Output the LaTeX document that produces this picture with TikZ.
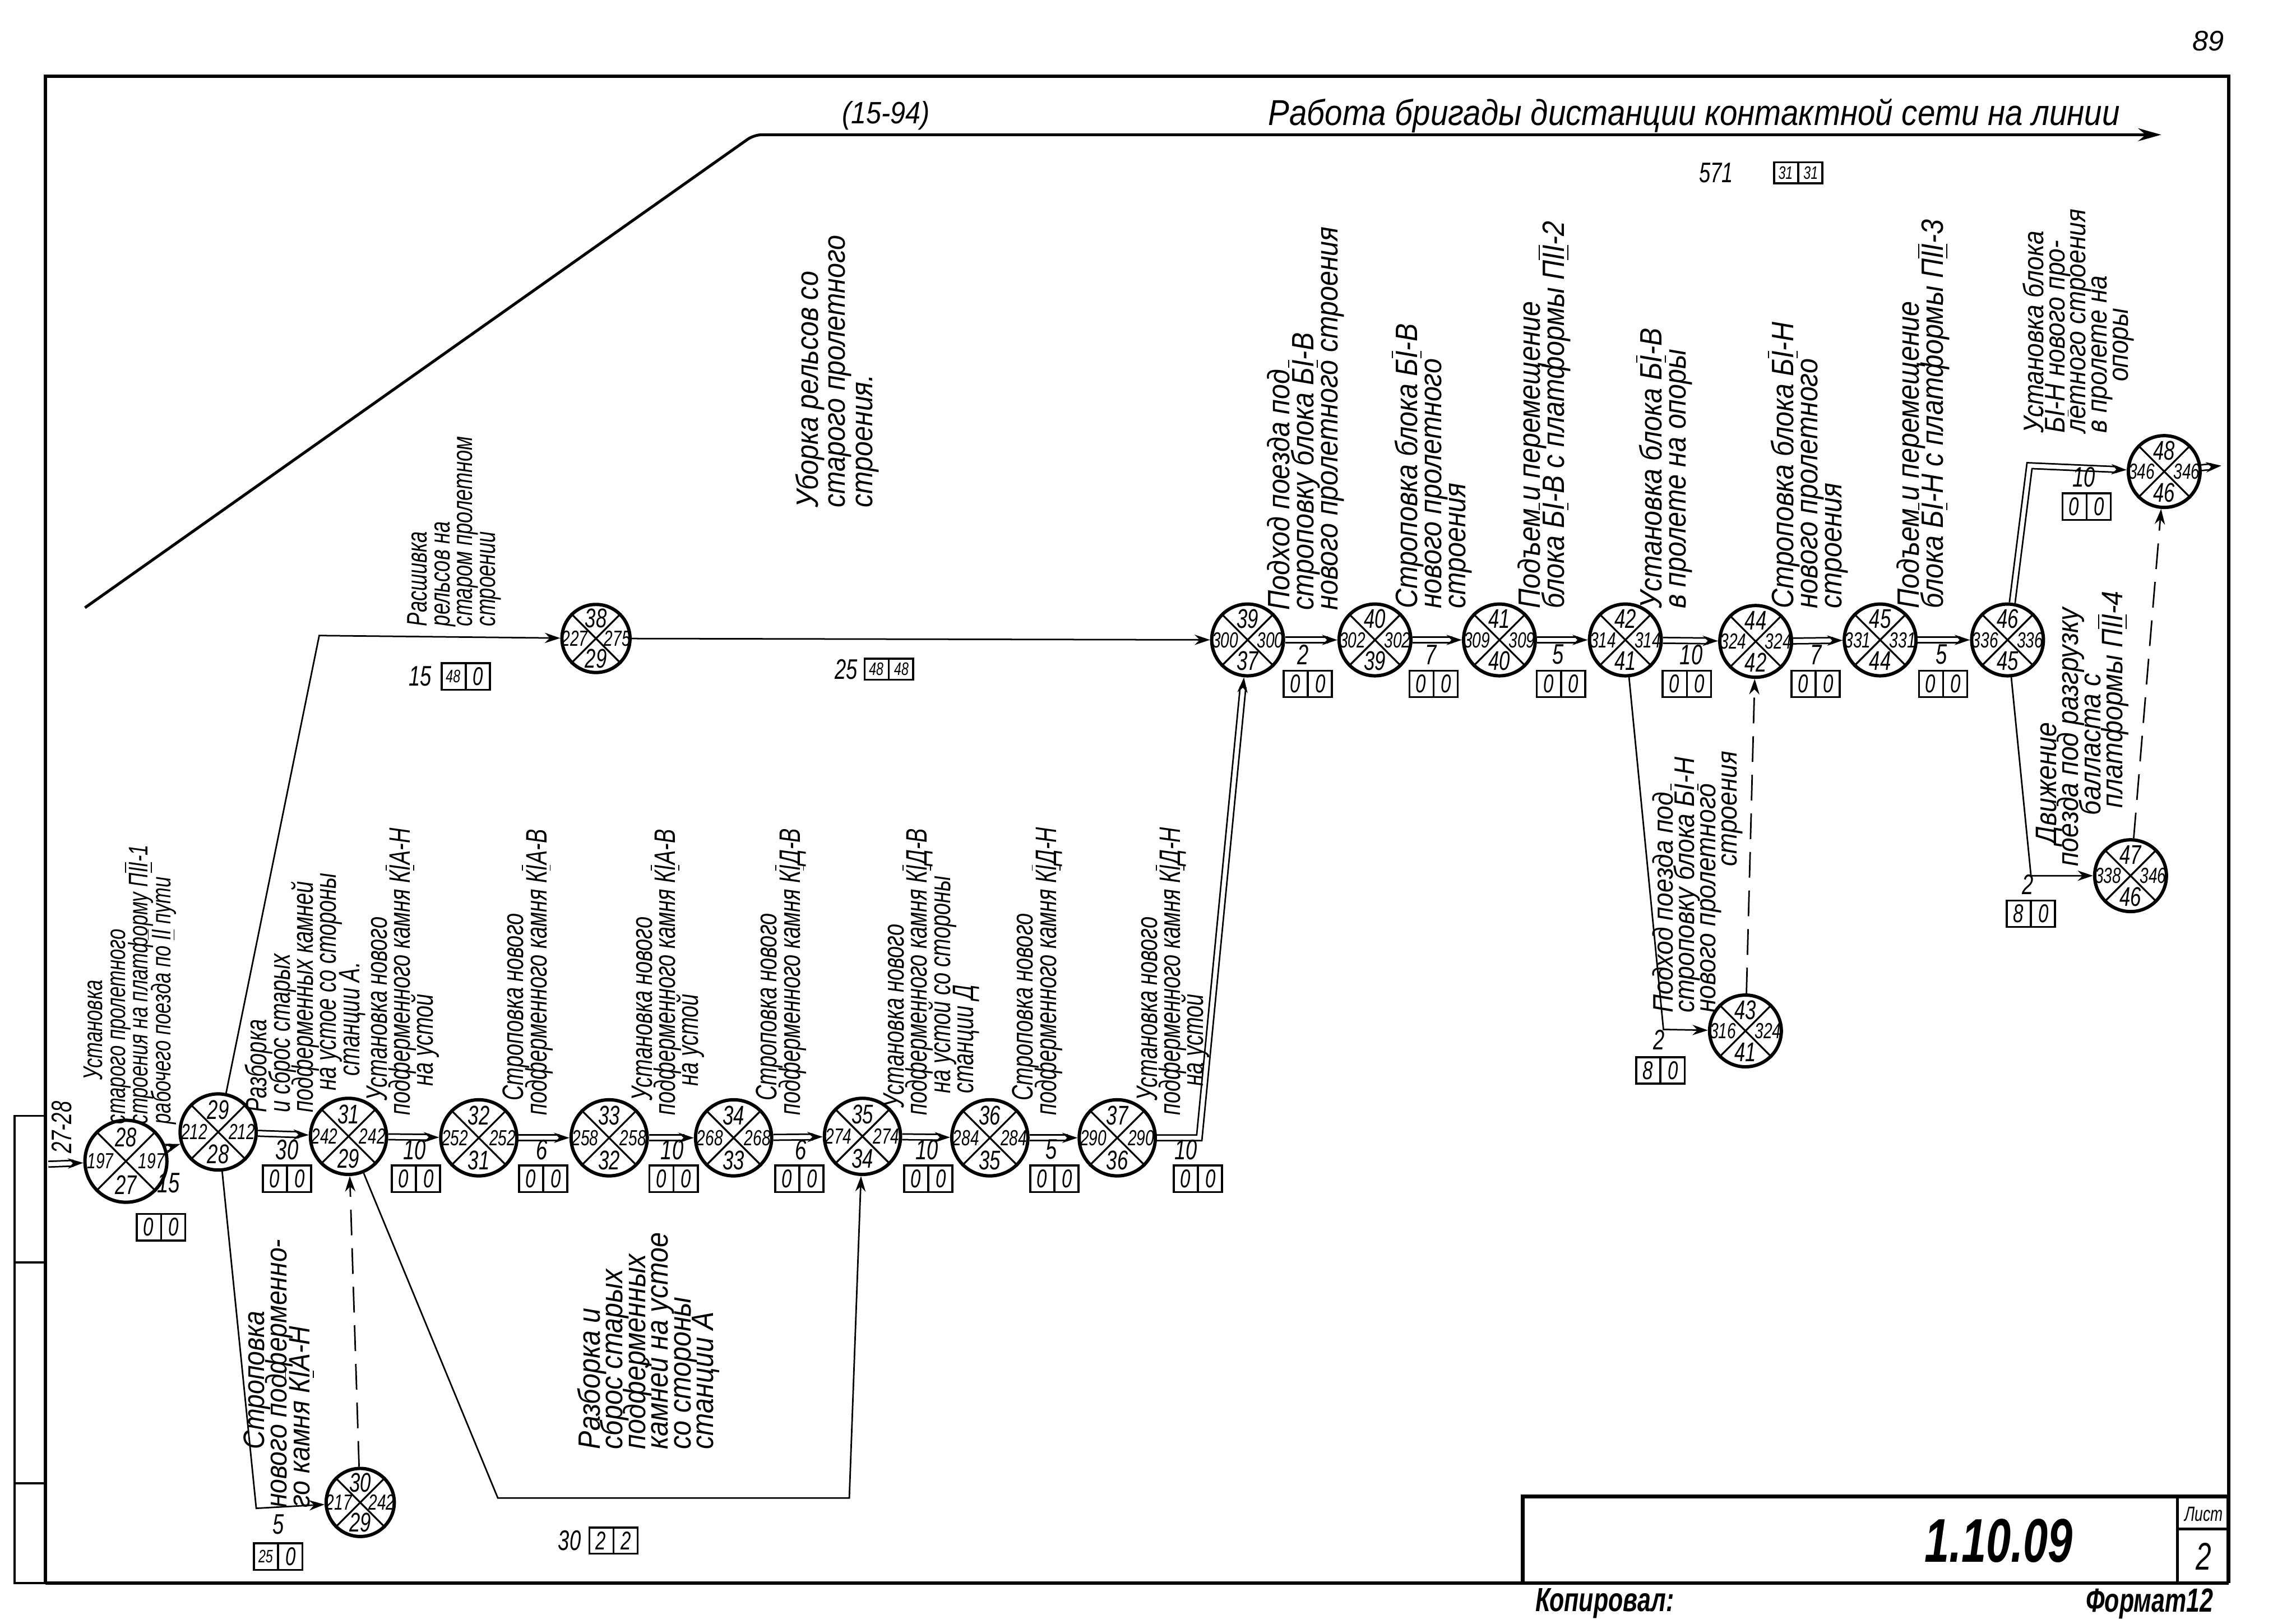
\documentclass[tikz,border=0pt]{standalone}
\usepackage{fontspec}
\setmainfont{Liberation Sans}
\newfontfamily\handfont[FakeStretch=0.72]{Liberation Sans}
\newfontfamily\wideface[FakeStretch=0.88]{Liberation Sans}
\usetikzlibrary{arrows.meta,calc,shapes.multipart}
\lineskiplimit=-30pt

\newcommand{\rom}[1]{\smash{$\overline{\underline{\mbox{#1}}}$}}
\newcommand{\two}[1]{{\fontsize{7}{7}\selectfont #1}}

% event circle: name, position, number, early, late, previous
\newcommand{\evnode}[7][event]{%
  \node[#1] (#2) at #3 {};
  \draw[xline] (#2.45) -- (#2.225) (#2.135) -- (#2.-45);
  \node[evnum] (#2-t) at ($(#2.center)!0.56!(#2.north)$) {#4};
  \node[evside] (#2-l) at ($(#2.center)!0.6!(#2.west)$) {#5};
  \node[evside] (#2-r) at ($(#2.center)!0.6!(#2.east)$) {#6};
  \node[evnum] (#2-b) at ($(#2.center)!0.56!(#2.south)$) {#7};
}

% duration and reserve cells of a job
\newcommand{\job}[6]{%
  \node[dur] (#1) at #2 {#3};
  \node[resbox] (#1-c) at #4 {#5\nodepart{two}#6};
}

\begin{document}
\begin{tikzpicture}[x=0.02cm, y=-0.02cm,
  event/.style={circle, draw, line width=1.3pt, minimum size=1.04cm, inner sep=0pt},
  evbig/.style={event, minimum size=1.12cm},
  evmid/.style={event, minimum size=0.98cm},
  evsmall/.style={event, minimum size=0.93cm},
  xline/.style={line width=0.7pt},
  evnum/.style={font=\handfont\itshape\fontsize{10.5}{10.5}\selectfont, inner sep=0pt},
  evside/.style={font=\handfont\itshape\fontsize{8.5}{8.5}\selectfont, inner sep=0pt},
  dbl/.style={double, double distance=1.6pt, line width=0.6pt, -{Stealth[length=6pt, width=4pt]}},
  joblink/.style={line width=0.6pt, -{Stealth[length=6pt, width=4pt]}},
  dummylink/.style={joblink, dash pattern=on 10pt off 5pt},
  dur/.style={font=\handfont\itshape\fontsize{11}{11}\selectfont, inner sep=0pt},
  resbox/.style={rectangle split, rectangle split horizontal, rectangle split parts=2, draw, line width=0.8pt,
    inner xsep=1.5pt, inner ysep=1.6pt, text width=0.21cm, align=center, font=\handfont\itshape\fontsize{10}{10}\selectfont},
  jobtext/.style={rotate=90, anchor=north west, align=left, inner sep=0pt, font=\handfont\itshape\fontsize{11.5}{9}\selectfont},
  jobwide/.style={jobtext, font=\wideface\itshape\fontsize{12}{9.4}\selectfont},
  sheetline/.style={line width=1.2pt}
]
\useasboundingbox (0,0) rectangle (1568,1109);

% sheet frame
\draw[sheetline] (31,1081) -- (31,52) -- (1522,52) -- (1522,1022);
\draw[sheetline] (31,1081) -- (1522,1081);
\draw[line width=0.8pt] (31,762) -- (10,762) -- (10,1081) -- (31,1081);
\draw[line width=0.8pt] (10,862) -- (31,862) (10,1013) -- (31,1013);
\node[font=\itshape\fontsize{11}{11}\selectfont] (page) at (1508,28) {89};

% title block
\draw[line width=1.5pt] (1040,1081) -- (1040,1022) -- (1522,1022) -- (1522,1081);
\draw[line width=1pt] (1487,1022) -- (1487,1081);
\draw[line width=1pt] (1487,1044) -- (1522,1044);
\node[font=\handfont\bfseries\itshape\fontsize{24}{24}\selectfont] (code) at (1365,1052) {1.10.09};
\node[font=\handfont\itshape\fontsize{8}{8}\selectfont] (sheet) at (1505,1034) {Лист};
\node[font=\handfont\itshape\fontsize{15}{15}\selectfont] (sheetno) at (1505,1063) {2};
\node[font=\handfont\bfseries\itshape\fontsize{13}{13}\selectfont] (copied) at (1096,1095) {Копировал:};
\node[font=\handfont\bfseries\itshape\fontsize{13}{13}\selectfont] (format) at (1468,1095) {Формат12};

% events of the main chain
\evnode[evbig]{e28}{(86,793)}{28}{197}{197}{27}
\evnode{e29}{(149,773)}{29}{212}{212}{28}
\evnode{e31}{(238,776)}{31}{242}{242}{29}
\evnode{e32}{(327,777)}{32}{252}{252}{31}
\evnode{e33}{(416,777)}{33}{258}{258}{32}
\evnode{e34}{(501,777)}{34}{268}{268}{33}
\evnode{e35}{(589,776)}{35}{274}{274}{34}
\evnode{e36}{(676,777)}{36}{284}{284}{35}
\evnode{e37}{(763,777)}{37}{290}{290}{36}
\evnode[evsmall]{e30}{(246,1026)}{30}{217}{242}{29}
\evnode[evsmall]{e38}{(407,436)}{38}{227}{275}{29}

% events of the upper chain
\evnode[evmid]{e39}{(852,437)}{39}{300}{300}{37}
\evnode[evmid]{e40}{(939,437)}{40}{302}{302}{39}
\evnode[evmid]{e41}{(1024,437)}{41}{309}{309}{40}
\evnode[evmid]{e42}{(1110,437)}{42}{314}{314}{41}
\evnode[evmid]{e44}{(1199,438)}{44}{324}{324}{42}
\evnode[evmid]{e45}{(1284,437)}{45}{331}{331}{44}
\evnode[evmid]{e46}{(1371,437)}{46}{336}{336}{45}
\evnode[evmid]{e43}{(1192,704)}{43}{316}{324}{41}
\evnode[evmid]{e47}{(1455,598)}{47}{338}{346}{46}
\evnode[evmid]{e48}{(1478,322)}{48}{346}{346}{46}

% bends of the connectors
\coordinate (inp) at (33,795);
\coordinate (b37) at (819,777);
\coordinate (c29a) at (218,434);
\coordinate (c29b) at (175,1030);
\coordinate (c31a) at (340,1023);
\coordinate (c31b) at (580,1023);
\coordinate (c42) at (1136,703);
\coordinate (c46a) at (1387,598);
\coordinate (c46b) at (1386,318);
\coordinate (outp) at (1517,318);
\coordinate (w0) at (58,415);
\coordinate (w1) at (515,92);
\coordinate (w2) at (1476,92);

% critical path
\draw[dbl] (inp) -- (e28);
\draw[dbl] (e28) -- (e29);
\draw[dbl] (e29) -- (e31);
\draw[dbl] (e31) -- (e32);
\draw[dbl] (e32) -- (e33);
\draw[dbl] (e33) -- (e34);
\draw[dbl] (e34) -- (e35);
\draw[dbl] (e35) -- (e36);
\draw[dbl] (e36) -- (e37);
\draw[dbl] (e37) -- (b37) -- (e39);
\draw[dbl] (e39) -- (e40);
\draw[dbl] (e40) -- (e41);
\draw[dbl] (e41) -- (e42);
\draw[dbl] (e42) -- (e44);
\draw[dbl] (e44) -- (e45);
\draw[dbl] (e45) -- (e46);
\draw[dbl] (e46) -- (c46b) -- (e48);
\draw[dbl] (e48) -- (outp);

% side jobs
\draw[joblink] (e29) -- (c29a) -- (e38);
\draw[joblink] (e38) -- (e39);
\draw[joblink] (e29) -- (c29b) -- (e30);
\draw[joblink] (e31) -- (c31a) -- (c31b) -- (e35);
\draw[joblink] (e42) -- (c42) -- (e43);
\draw[joblink] (e46) -- (c46a) -- (e47);
\draw[dummylink] (e30) -- (e31);
\draw[dummylink] (e43) -- (e44);
\draw[dummylink] (e47) -- (e48);

% catenary crew line
\draw[line width=1.1pt, rounded corners=3pt, -{Stealth[length=9pt, width=5pt]}] (w0) -- (w1) -- (w2);
\node[font=\wideface\itshape\fontsize{12}{12}\selectfont] (crewcode) at (605,79) {(15-94)};
\node[font=\wideface\itshape\fontsize{14}{14}\selectfont] (crew) at (1157,79) {Работа бригады дистанции контактной сети на линии};

% durations and reserves
\job{d1}{(115,808)}{15}{(110,838)}{0}{0}
\job{d2}{(196,785)}{30}{(196,805)}{0}{0}
\job{d3}{(283,785)}{10}{(284,805)}{0}{0}
\job{d4}{(370,785)}{6}{(371,805)}{0}{0}
\job{d5}{(459,785)}{10}{(460,805)}{0}{0}
\job{d6}{(547,785)}{6}{(546,805)}{0}{0}
\job{d7}{(633,785)}{10}{(634,805)}{0}{0}
\job{d8}{(718,785)}{5}{(720,805)}{0}{0}
\job{d9}{(810,785)}{10}{(818,805)}{0}{0}
\job{d10}{(890,447)}{2}{(893,467)}{0}{0}
\job{d11}{(977,447)}{7}{(979,467)}{0}{0}
\job{d12}{(1064,447)}{5}{(1066,467)}{0}{0}
\job{d13}{(1155,447)}{10}{(1152,467)}{0}{0}
\job{d14}{(1240,447)}{7}{(1240,467)}{0}{0}
\job{d15}{(1326,447)}{5}{(1327,467)}{0}{0}
\job{d16}{(1423,326)}{10}{(1425,346)}{0}{0}
\job{d17}{(1385,604)}{2}{(1387,624)}{8}{0}
\job{d18}{(1133,710)}{2}{(1134,731)}{8}{0}
\job{d19}{(190,1041)}{5}{(190,1063)}{\two{25}}{0}
\job{d20}{(389,1052)}{30}{(419,1052)}{2}{2}
\job{d21}{(287,462)}{15}{(318,462)}{\two{48}}{0}
\job{d22}{(578,457)}{25}{(607,457)}{\two{48}}{\two{48}}
\job{d23}{(1172,118)}{571}{(1228,118)}{\two{31}}{\two{31}}

% job descriptions, main chain
\node[jobtext, font=\handfont\itshape\fontsize{10.5}{8.8}\selectfont] (t1) at (57,768) {\hspace*{6mm}Установка\\старого пролетного\\строения на платформу П\rom{II}-1\\рабочего поезда по \rom{II} пути};
\node[jobtext] (t2) at (167,760) {Разборка\\и сброс старых\\подферменных камней\\\hspace*{3mm}на устое со стороны\\\hspace*{5mm}станции А.};
\node[jobtext] (t3) at (250,762) {\hspace*{2mm}Установка нового\\подферменного камня К\rom{I}А-Н\\\hspace*{4mm}на устой};
\node[jobtext] (t4) at (343,762) {\hspace*{2mm}Строповка нового\\подферменного камня К\rom{I}А-В};
\node[jobtext] (t5) at (431,762) {\hspace*{2mm}Установка нового\\подферменного камня К\rom{I}А-В\\\hspace*{4mm}на устой};
\node[jobtext] (t6) at (516,762) {\hspace*{2mm}Строповка нового\\подферменного камня К\rom{I}Д-В};
\node[jobtext] (t7) at (603,762) {\hspace*{1mm}Установка нового\\подферменного камня К\rom{I}Д-В\\\hspace*{3mm}на устой со стороны\\\hspace*{3mm}станции Д};
\node[jobtext] (t8) at (691,762) {\hspace*{2mm}Строповка нового\\подферменного камня К\rom{I}Д-Н};
\node[jobtext] (t9) at (776,762) {\hspace*{2mm}Установка нового\\подферменного камня К\rom{I}Д-Н\\\hspace*{4mm}на устой};

% job descriptions, upper chain
\node[jobwide] (t10) at (865,417) {Подход поезда под\\строповку блока Б\rom{I}-В\\нового пролетного строения};
\node[jobwide] (t11) at (952,416) {Строповка блока Б\rom{I}-В\\нового пролетного\\строения};
\node[jobwide] (t12) at (1036,416) {Подъем и перемещение\\блока Б\rom{I}-В с платформы П\rom{II}-2};
\node[jobwide] (t13) at (1119,416) {Установка блока Б\rom{I}-В\\в пролете на опоры};
\node[jobwide] (t14) at (1209,416) {Строповка блока Б\rom{I}-Н\\нового пролетного\\строения};
\node[jobwide] (t15) at (1295,416) {Подъем и перемещение\\блока Б\rom{I}-Н с платформы П\rom{II}-3};
\node[jobwide, font=\wideface\itshape\fontsize{11}{8.2}\selectfont] (t16) at (1381,296) {Установка блока\\Б\rom{I}-Н нового про-\\летного строения\\в пролете на\\\hspace*{7mm}опоры};
\node[jobwide, font=\wideface\itshape\fontsize{11}{8.3}\selectfont] (t17) at (1128,692) {Подход поезда под\\строповку блока Б\rom{I}-Н\\нового пролетного\\\hspace*{20mm}строения};
\node[jobwide, font=\wideface\itshape\fontsize{11.5}{8.6}\selectfont] (t18) at (1390,592) {\hspace*{3mm}Движение\\поезда под разгрузку\\\hspace*{7mm}балласта с\\\hspace*{8mm}платформы П\rom{II}-4};

% job descriptions, side branches
\node[jobwide, font=\wideface\itshape\fontsize{11.5}{8.8}\selectfont] (t19) at (166,1030) {\hspace*{8mm}Строповка\\нового подферменно-\\го камня К\rom{I}А-Н};
\node[jobwide, font=\wideface\itshape\fontsize{12}{8.8}\selectfont] (t20) at (394,990) {Разборка и\\сброс старых\\подферменных\\камней на устое\\со стороны\\станции А};
\node[jobtext, font=\handfont\itshape\fontsize{11}{8.8}\selectfont] (t21) at (278,428) {Расшивка\\рельсов на\\старом пролетном\\строении};
\node[jobwide, font=\wideface\itshape\fontsize{12}{10.5}\selectfont] (t22) at (543,347) {Уборка рельсов со\\старого пролетного\\строения.};

% input of the fragment
\node[jobtext, font=\handfont\itshape\fontsize{11}{11}\selectfont, anchor=west] (in) at (42,788) {27-28};
\end{tikzpicture}
\end{document}
